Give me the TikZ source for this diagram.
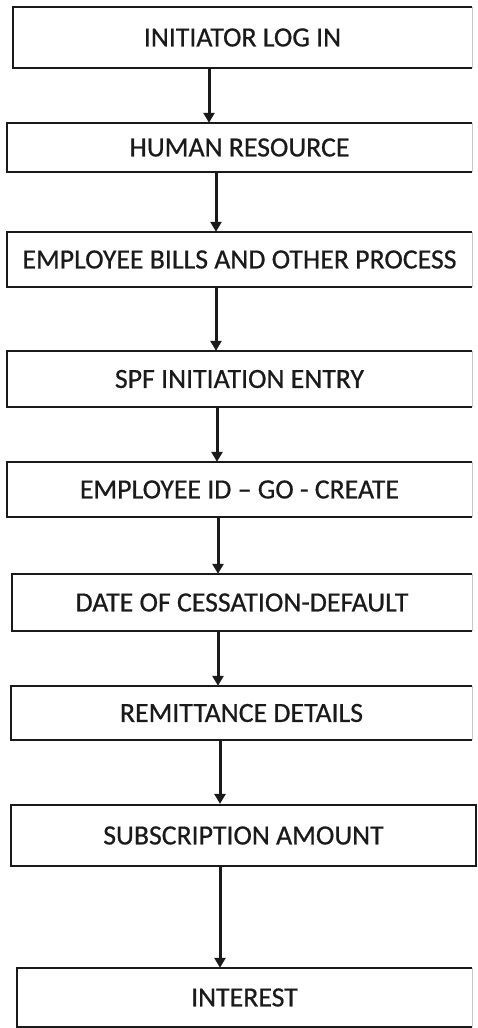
\documentclass[tikz,border=0pt]{standalone}
\usepackage{fontspec}
\setmainfont{Carlito}[FakeBold=0.6]
\usetikzlibrary{arrows.meta}
\definecolor{ink}{HTML}{1A1A1A}
\definecolor{faint}{HTML}{C8C8C8}
\tikzset{
  stepbox/.style={draw=none, inner sep=0pt, text=ink,
    font=\fontsize{27.8}{32}\selectfont, anchor=center},
  frame/.style={draw=ink, line width=2.2pt},
  edge/.style={draw=faint, line width=1.3pt},
  flow/.style={draw=ink, line width=3pt,
    -{Triangle[length=10pt,width=11pt]}},
}
% draw three sides dark, the right side faint
\newcommand{\openbox}[1]{%
  \draw[frame] (#1.north east) -- (#1.north west) -- (#1.south west) -- (#1.south east);
  \draw[edge] (#1.north east) -- (#1.south east);}
\begin{document}
\begin{tikzpicture}[x=1pt,y=-1pt]
\useasboundingbox (0,0) rectangle (477,1028);
\fill[white] (0,0) rectangle (477,1028);

\node[stepbox, minimum width=459, minimum height=61] (b1) at (242.5,37.5) {INITIATOR LOG IN};
\node[stepbox, minimum width=465, minimum height=49] (b2) at (239.5,147.5) {HUMAN RESOURCE};
\node[stepbox, minimum width=465, minimum height=55] (b3) at (239.5,259.5) {EMPLOYEE BILLS AND OTHER PROCESS};
\node[stepbox, minimum width=465, minimum height=56] (b4) at (239.5,379) {SPF INITIATION ENTRY};
\node[stepbox, minimum width=465, minimum height=55] (b5) at (239.5,489.5) {EMPLOYEE ID – GO - CREATE};
\node[stepbox, minimum width=460, minimum height=57] (b6) at (242,602.5) {DATE OF CESSATION-DEFAULT};
\node[stepbox, minimum width=461, minimum height=54] (b7) at (241.5,713) {REMITTANCE DETAILS};
\node[stepbox, minimum width=465, minimum height=61, draw=ink, line width=2.2pt] (b8) at (243.5,835.5) {SUBSCRIPTION AMOUNT};
\node[stepbox, minimum width=455, minimum height=59] (b9) at (244.5,997.5) {INTEREST};

\openbox{b1}\openbox{b2}\openbox{b3}\openbox{b4}
\openbox{b5}\openbox{b6}\openbox{b7}\openbox{b9}

% connector columns
\coordinate (c1) at (209,0);
\coordinate (c2) at (216,0);
\coordinate (c3) at (216,0);
\coordinate (c4) at (217,0);
\coordinate (c5) at (218,0);
\coordinate (c6) at (218,0);
\coordinate (c7) at (220,0);
\coordinate (c8) at (220,0);

\draw[flow] (b1.south -| c1) -- (b2.north -| c1);
\draw[flow] (b2.south -| c2) -- (b3.north -| c2);
\draw[flow] (b3.south -| c3) -- (b4.north -| c3);
\draw[flow] (b4.south -| c4) -- (b5.north -| c4);
\draw[flow] (b5.south -| c5) -- (b6.north -| c5);
\draw[flow] (b6.south -| c6) -- (b7.north -| c6);
\draw[flow] (b7.south -| c7) -- (b8.north -| c7);
\draw[flow] (b8.south -| c8) -- (b9.north -| c8);
\end{tikzpicture}
\end{document}
